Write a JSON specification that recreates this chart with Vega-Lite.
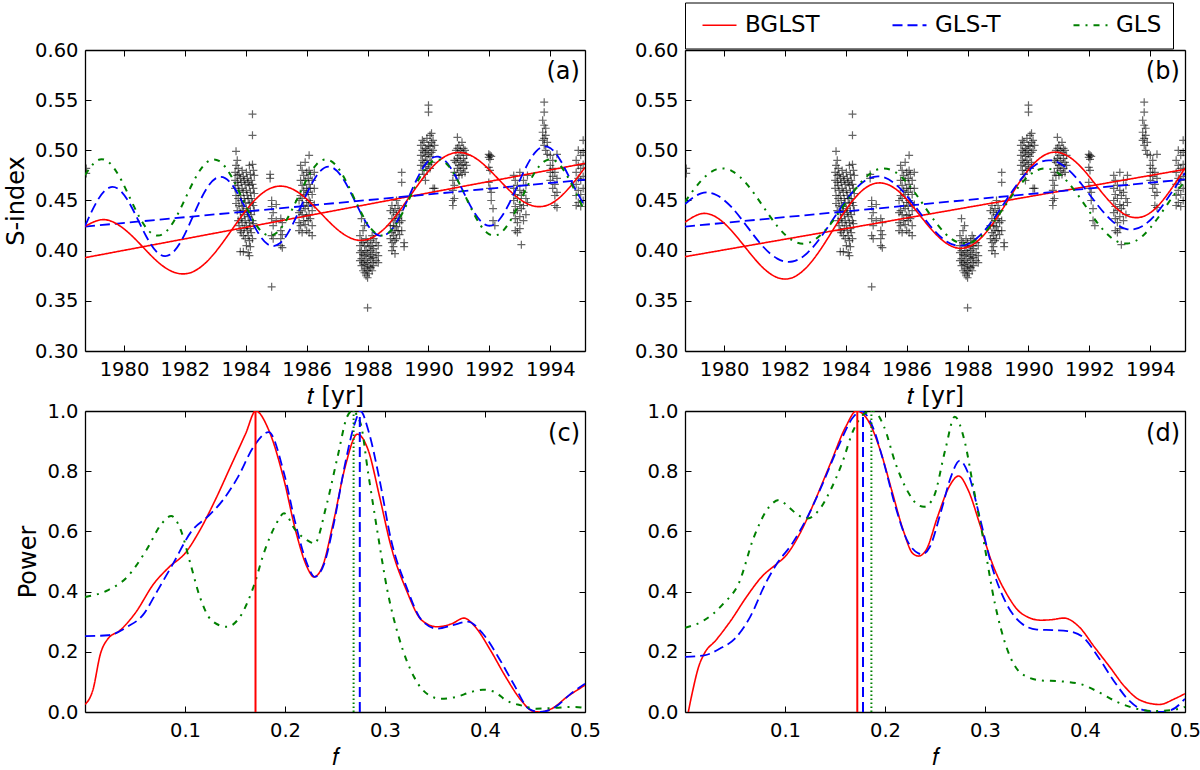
{
  "$schema": "https://vega.github.io/schema/vega-lite/v6.json",
  "padding": {"left": 4, "top": 2, "right": 5, "bottom": 0},
  "background": "white",
  "datasets": {
    "obs": [
      {"t":1978.76,"s":0.482},{"t":1978.76,"s":0.477},
      {"t":1983.65,"s":0.478},{"t":1983.65,"s":0.470},{"t":1983.65,"s":0.462},
      {"t":1983.68,"s":0.499},{"t":1983.68,"s":0.485},{"t":1983.68,"s":0.455},{"t":1983.68,"s":0.447},
      {"t":1983.72,"s":0.490},{"t":1983.72,"s":0.475},{"t":1983.72,"s":0.468},{"t":1983.72,"s":0.440},
      {"t":1983.75,"s":0.482},{"t":1983.75,"s":0.465},{"t":1983.75,"s":0.452},{"t":1983.75,"s":0.430},
      {"t":1983.78,"s":0.476},{"t":1983.78,"s":0.460},{"t":1983.78,"s":0.445},{"t":1983.78,"s":0.425},
      {"t":1983.82,"s":0.472},{"t":1983.82,"s":0.455},{"t":1983.82,"s":0.438},{"t":1983.82,"s":0.420},{"t":1983.82,"s":0.399},
      {"t":1983.85,"s":0.468},{"t":1983.85,"s":0.450},{"t":1983.85,"s":0.432},{"t":1983.85,"s":0.418},
      {"t":1983.88,"s":0.480},{"t":1983.88,"s":0.462},{"t":1983.88,"s":0.444},{"t":1983.88,"s":0.428},
      {"t":1983.92,"s":0.474},{"t":1983.92,"s":0.458},{"t":1983.92,"s":0.440},{"t":1983.92,"s":0.415},{"t":1983.92,"s":0.399},
      {"t":1983.95,"s":0.470},{"t":1983.95,"s":0.452},{"t":1983.95,"s":0.436},{"t":1983.95,"s":0.422},
      {"t":1983.98,"s":0.466},{"t":1983.98,"s":0.448},{"t":1983.98,"s":0.430},{"t":1983.98,"s":0.412},
      {"t":1984.02,"s":0.478},{"t":1984.02,"s":0.460},{"t":1984.02,"s":0.442},{"t":1984.02,"s":0.425},{"t":1984.02,"s":0.405},
      {"t":1984.05,"s":0.472},{"t":1984.05,"s":0.455},{"t":1984.05,"s":0.438},{"t":1984.05,"s":0.420},
      {"t":1984.08,"s":0.468},{"t":1984.08,"s":0.452},{"t":1984.08,"s":0.434},{"t":1984.08,"s":0.415},{"t":1984.08,"s":0.398},
      {"t":1984.12,"s":0.485},{"t":1984.12,"s":0.465},{"t":1984.12,"s":0.447},{"t":1984.12,"s":0.428},{"t":1984.12,"s":0.410},{"t":1984.12,"s":0.395},
      {"t":1984.15,"s":0.476},{"t":1984.15,"s":0.458},{"t":1984.15,"s":0.440},{"t":1984.15,"s":0.422},{"t":1984.15,"s":0.404},
      {"t":1984.18,"s":0.470},{"t":1984.18,"s":0.452},{"t":1984.18,"s":0.436},{"t":1984.18,"s":0.418},
      {"t":1984.22,"s":0.536},{"t":1984.22,"s":0.515},{"t":1984.22,"s":0.486},{"t":1984.22,"s":0.466},{"t":1984.22,"s":0.448},{"t":1984.22,"s":0.430},{"t":1984.22,"s":0.412},
      {"t":1984.25,"s":0.480},{"t":1984.25,"s":0.462},{"t":1984.25,"s":0.445},{"t":1984.25,"s":0.427},
      {"t":1984.28,"s":0.475},{"t":1984.28,"s":0.457},{"t":1984.28,"s":0.440},
      {"t":1984.80,"s":0.476},{"t":1984.80,"s":0.472},
      {"t":1984.85,"s":0.450},{"t":1984.85,"s":0.444},{"t":1984.85,"s":0.432},{"t":1984.85,"s":0.415},{"t":1984.85,"s":0.364},
      {"t":1984.90,"s":0.438},{"t":1984.90,"s":0.425},{"t":1984.90,"s":0.412},
      {"t":1985.00,"s":0.446},{"t":1985.00,"s":0.430},
      {"t":1985.15,"s":0.432},{"t":1985.15,"s":0.420},{"t":1985.15,"s":0.412},{"t":1985.15,"s":0.405},
      {"t":1985.20,"s":0.428},{"t":1985.20,"s":0.416},{"t":1985.20,"s":0.403},
      {"t":1985.75,"s":0.450},{"t":1985.75,"s":0.438},{"t":1985.75,"s":0.428},{"t":1985.75,"s":0.420},
      {"t":1985.80,"s":0.485},{"t":1985.80,"s":0.470},{"t":1985.80,"s":0.455},{"t":1985.80,"s":0.440},{"t":1985.80,"s":0.425},
      {"t":1985.85,"s":0.480},{"t":1985.85,"s":0.465},{"t":1985.85,"s":0.452},{"t":1985.85,"s":0.436},{"t":1985.85,"s":0.418},
      {"t":1985.90,"s":0.475},{"t":1985.90,"s":0.460},{"t":1985.90,"s":0.445},{"t":1985.90,"s":0.430},
      {"t":1985.95,"s":0.488},{"t":1985.95,"s":0.470},{"t":1985.95,"s":0.456},{"t":1985.95,"s":0.442},{"t":1985.95,"s":0.426},
      {"t":1986.00,"s":0.478},{"t":1986.00,"s":0.462},{"t":1986.00,"s":0.448},{"t":1986.00,"s":0.435},{"t":1986.00,"s":0.420},
      {"t":1986.05,"s":0.472},{"t":1986.05,"s":0.458},{"t":1986.05,"s":0.444},{"t":1986.05,"s":0.430},
      {"t":1986.08,"s":0.495},{"t":1986.08,"s":0.480},{"t":1986.08,"s":0.466},{"t":1986.08,"s":0.450},{"t":1986.08,"s":0.436},{"t":1986.08,"s":0.418},
      {"t":1986.12,"s":0.476},{"t":1986.12,"s":0.462},{"t":1986.12,"s":0.448},{"t":1986.12,"s":0.432},
      {"t":1986.18,"s":0.470},{"t":1986.18,"s":0.456},{"t":1986.18,"s":0.440},{"t":1986.18,"s":0.425},{"t":1986.18,"s":0.415},
      {"t":1986.25,"s":0.478},{"t":1986.25,"s":0.462},{"t":1986.25,"s":0.446},
      {"t":1987.75,"s":0.415},{"t":1987.75,"s":0.405},{"t":1987.75,"s":0.398},{"t":1987.75,"s":0.390},
      {"t":1987.80,"s":0.432},{"t":1987.80,"s":0.410},{"t":1987.80,"s":0.400},{"t":1987.80,"s":0.392},{"t":1987.80,"s":0.385},
      {"t":1987.85,"s":0.420},{"t":1987.85,"s":0.408},{"t":1987.85,"s":0.396},{"t":1987.85,"s":0.388},{"t":1987.85,"s":0.380},
      {"t":1987.90,"s":0.425},{"t":1987.90,"s":0.405},{"t":1987.90,"s":0.395},{"t":1987.90,"s":0.386},{"t":1987.90,"s":0.378},
      {"t":1987.95,"s":0.412},{"t":1987.95,"s":0.400},{"t":1987.95,"s":0.390},{"t":1987.95,"s":0.382},{"t":1987.95,"s":0.375},
      {"t":1988.00,"s":0.408},{"t":1988.00,"s":0.398},{"t":1988.00,"s":0.388},{"t":1988.00,"s":0.380},{"t":1988.00,"s":0.373},{"t":1988.00,"s":0.343},
      {"t":1988.05,"s":0.404},{"t":1988.05,"s":0.394},{"t":1988.05,"s":0.384},{"t":1988.05,"s":0.377},
      {"t":1988.10,"s":0.410},{"t":1988.10,"s":0.400},{"t":1988.10,"s":0.392},{"t":1988.10,"s":0.383},
      {"t":1988.15,"s":0.415},{"t":1988.15,"s":0.405},{"t":1988.15,"s":0.396},{"t":1988.15,"s":0.388},{"t":1988.15,"s":0.380},
      {"t":1988.20,"s":0.412},{"t":1988.20,"s":0.402},{"t":1988.20,"s":0.393},{"t":1988.20,"s":0.385},
      {"t":1988.28,"s":0.408},{"t":1988.28,"s":0.398},{"t":1988.28,"s":0.390},
      {"t":1988.35,"s":0.405},{"t":1988.35,"s":0.395},{"t":1988.35,"s":0.388},
      {"t":1988.75,"s":0.440},{"t":1988.75,"s":0.425},{"t":1988.75,"s":0.412},
      {"t":1988.80,"s":0.445},{"t":1988.80,"s":0.432},{"t":1988.80,"s":0.418},{"t":1988.80,"s":0.408},{"t":1988.80,"s":0.400},
      {"t":1988.85,"s":0.438},{"t":1988.85,"s":0.425},{"t":1988.85,"s":0.415},{"t":1988.85,"s":0.404},
      {"t":1988.90,"s":0.442},{"t":1988.90,"s":0.430},{"t":1988.90,"s":0.420},{"t":1988.90,"s":0.410},{"t":1988.90,"s":0.397},
      {"t":1988.95,"s":0.450},{"t":1988.95,"s":0.436},{"t":1988.95,"s":0.424},{"t":1988.95,"s":0.412},
      {"t":1989.00,"s":0.445},{"t":1989.00,"s":0.432},{"t":1989.00,"s":0.420},
      {"t":1989.05,"s":0.440},{"t":1989.05,"s":0.428},{"t":1989.05,"s":0.416},
      {"t":1989.12,"s":0.478},{"t":1989.12,"s":0.468},{"t":1989.12,"s":0.430},{"t":1989.12,"s":0.420},
      {"t":1989.20,"s":0.408},{"t":1989.20,"s":0.404},
      {"t":1989.75,"s":0.505},{"t":1989.75,"s":0.495},{"t":1989.75,"s":0.485},
      {"t":1989.80,"s":0.510},{"t":1989.80,"s":0.500},{"t":1989.80,"s":0.490},{"t":1989.80,"s":0.480},
      {"t":1989.85,"s":0.508},{"t":1989.85,"s":0.498},{"t":1989.85,"s":0.488},{"t":1989.85,"s":0.476},
      {"t":1989.90,"s":0.502},{"t":1989.90,"s":0.494},{"t":1989.90,"s":0.484},{"t":1989.90,"s":0.470},
      {"t":1989.95,"s":0.512},{"t":1989.95,"s":0.500},{"t":1989.95,"s":0.490},{"t":1989.95,"s":0.480},
      {"t":1990.00,"s":0.545},{"t":1990.00,"s":0.538},{"t":1990.00,"s":0.505},{"t":1990.00,"s":0.496},{"t":1990.00,"s":0.486},
      {"t":1990.05,"s":0.515},{"t":1990.05,"s":0.504},{"t":1990.05,"s":0.494},{"t":1990.05,"s":0.482},
      {"t":1990.10,"s":0.517},{"t":1990.10,"s":0.508},{"t":1990.10,"s":0.498},{"t":1990.10,"s":0.488},
      {"t":1990.15,"s":0.510},{"t":1990.15,"s":0.500},{"t":1990.15,"s":0.462},
      {"t":1990.20,"s":0.505},{"t":1990.20,"s":0.462},
      {"t":1990.80,"s":0.470},{"t":1990.80,"s":0.460},{"t":1990.80,"s":0.450},{"t":1990.80,"s":0.445},
      {"t":1990.85,"s":0.490},{"t":1990.85,"s":0.478},{"t":1990.85,"s":0.465},{"t":1990.85,"s":0.452},
      {"t":1990.90,"s":0.500},{"t":1990.90,"s":0.488},{"t":1990.90,"s":0.475},
      {"t":1990.95,"s":0.513},{"t":1990.95,"s":0.502},{"t":1990.95,"s":0.492},{"t":1990.95,"s":0.482},
      {"t":1991.00,"s":0.505},{"t":1991.00,"s":0.495},{"t":1991.00,"s":0.485},{"t":1991.00,"s":0.475},
      {"t":1991.05,"s":0.500},{"t":1991.05,"s":0.490},{"t":1991.05,"s":0.480},
      {"t":1991.10,"s":0.508},{"t":1991.10,"s":0.498},{"t":1991.10,"s":0.486},{"t":1991.10,"s":0.476},
      {"t":1991.15,"s":0.502},{"t":1991.15,"s":0.492},{"t":1991.15,"s":0.482},
      {"t":1991.20,"s":0.500},{"t":1991.20,"s":0.488},{"t":1991.20,"s":0.478},
      {"t":1991.25,"s":0.495},{"t":1991.25,"s":0.485},
      {"t":1991.98,"s":0.496},{"t":1991.98,"s":0.493},{"t":1991.98,"s":0.483},{"t":1991.98,"s":0.468},
      {"t":1992.02,"s":0.495},{"t":1992.02,"s":0.491},{"t":1992.02,"s":0.480},{"t":1992.02,"s":0.462},
      {"t":1992.06,"s":0.494},{"t":1992.06,"s":0.458},{"t":1992.06,"s":0.450},
      {"t":1992.12,"s":0.442},{"t":1992.12,"s":0.430},
      {"t":1992.18,"s":0.425},
      {"t":1992.80,"s":0.475},{"t":1992.80,"s":0.462},{"t":1992.80,"s":0.450},{"t":1992.80,"s":0.438},
      {"t":1992.85,"s":0.470},{"t":1992.85,"s":0.456},{"t":1992.85,"s":0.444},{"t":1992.85,"s":0.432},{"t":1992.85,"s":0.420},
      {"t":1992.92,"s":0.465},{"t":1992.92,"s":0.452},{"t":1992.92,"s":0.440},{"t":1992.92,"s":0.428},{"t":1992.92,"s":0.418},
      {"t":1993.00,"s":0.478},{"t":1993.00,"s":0.460},{"t":1993.00,"s":0.446},{"t":1993.00,"s":0.434},{"t":1993.00,"s":0.422},
      {"t":1993.05,"s":0.455},{"t":1993.05,"s":0.442},{"t":1993.05,"s":0.406},
      {"t":1993.12,"s":0.470},{"t":1993.12,"s":0.458},{"t":1993.12,"s":0.445},{"t":1993.12,"s":0.430},
      {"t":1993.20,"s":0.465},{"t":1993.20,"s":0.452},{"t":1993.20,"s":0.436},
      {"t":1993.25,"s":0.475},{"t":1993.25,"s":0.448},
      {"t":1993.75,"s":0.530},{"t":1993.75,"s":0.518},{"t":1993.75,"s":0.510},
      {"t":1993.80,"s":0.548},{"t":1993.80,"s":0.538},{"t":1993.80,"s":0.525},{"t":1993.80,"s":0.512},{"t":1993.80,"s":0.505},
      {"t":1993.85,"s":0.522},{"t":1993.85,"s":0.515},{"t":1993.85,"s":0.500},
      {"t":1993.90,"s":0.508},{"t":1993.90,"s":0.496},
      {"t":1994.00,"s":0.495},{"t":1994.00,"s":0.485},{"t":1994.00,"s":0.478},{"t":1994.00,"s":0.470},
      {"t":1994.08,"s":0.490},{"t":1994.08,"s":0.482},{"t":1994.08,"s":0.474},{"t":1994.08,"s":0.462},
      {"t":1994.15,"s":0.478},{"t":1994.15,"s":0.466},{"t":1994.15,"s":0.455},{"t":1994.15,"s":0.445},
      {"t":1994.22,"s":0.496},{"t":1994.22,"s":0.472},{"t":1994.22,"s":0.458},{"t":1994.22,"s":0.443},
      {"t":1994.85,"s":0.490},{"t":1994.85,"s":0.478},{"t":1994.85,"s":0.466},{"t":1994.85,"s":0.455},{"t":1994.85,"s":0.445},
      {"t":1994.92,"s":0.500},{"t":1994.92,"s":0.485},{"t":1994.92,"s":0.472},{"t":1994.92,"s":0.460},{"t":1994.92,"s":0.448},
      {"t":1995.00,"s":0.495},{"t":1995.00,"s":0.482},{"t":1995.00,"s":0.470},{"t":1995.00,"s":0.456},{"t":1995.00,"s":0.444},
      {"t":1995.08,"s":0.510},{"t":1995.08,"s":0.498},{"t":1995.08,"s":0.486},{"t":1995.08,"s":0.474},{"t":1995.08,"s":0.462},{"t":1995.08,"s":0.450}
    ],
    "fitA": [
      {"method":"BGLST","part":"trend","t":1978.72,"s":0.393},{"method":"BGLST","part":"trend","t":1995.14,"s":0.487},
      {"method":"GLS-T","part":"trend","t":1978.72,"s":0.424},{"method":"GLS-T","part":"trend","t":1995.14,"s":0.4707},
      {"method":"BGLST","part":"fit","t":1978.72,"s":0.4243},{"method":"BGLST","part":"fit","t":1979.25,"s":0.4308},{"method":"BGLST","part":"fit","t":1979.75,"s":0.4269},{"method":"BGLST","part":"fit","t":1980.25,"s":0.4151},{"method":"BGLST","part":"fit","t":1980.75,"s":0.3995},{"method":"BGLST","part":"fit","t":1981.25,"s":0.3853},{"method":"BGLST","part":"fit","t":1981.75,"s":0.3775},{"method":"BGLST","part":"fit","t":1982.25,"s":0.3788},{"method":"BGLST","part":"fit","t":1982.75,"s":0.3899},{"method":"BGLST","part":"fit","t":1983.25,"s":0.4084},{"method":"BGLST","part":"fit","t":1983.75,"s":0.4297},{"method":"BGLST","part":"fit","t":1984.25,"s":0.4489},{"method":"BGLST","part":"fit","t":1984.75,"s":0.4613},{"method":"BGLST","part":"fit","t":1985.25,"s":0.4641},{"method":"BGLST","part":"fit","t":1985.75,"s":0.4575},{"method":"BGLST","part":"fit","t":1986.25,"s":0.4441},{"method":"BGLST","part":"fit","t":1986.75,"s":0.4284},{"method":"BGLST","part":"fit","t":1987.25,"s":0.4157},{"method":"BGLST","part":"fit","t":1987.75,"s":0.4103},{"method":"BGLST","part":"fit","t":1988.25,"s":0.4147},{"method":"BGLST","part":"fit","t":1988.75,"s":0.4283},{"method":"BGLST","part":"fit","t":1989.25,"s":0.4482},{"method":"BGLST","part":"fit","t":1989.75,"s":0.4695},{"method":"BGLST","part":"fit","t":1990.25,"s":0.4871},{"method":"BGLST","part":"fit","t":1990.75,"s":0.4967},{"method":"BGLST","part":"fit","t":1991.25,"s":0.4966},{"method":"BGLST","part":"fit","t":1991.75,"s":0.4876},{"method":"BGLST","part":"fit","t":1992.25,"s":0.4728},{"method":"BGLST","part":"fit","t":1992.75,"s":0.4575},{"method":"BGLST","part":"fit","t":1993.25,"s":0.4467},{"method":"BGLST","part":"fit","t":1993.75,"s":0.4441},{"method":"BGLST","part":"fit","t":1994.25,"s":0.4515},{"method":"BGLST","part":"fit","t":1994.75,"s":0.4674},{"method":"BGLST","part":"fit","t":1995.14,"s":0.4830},
      {"method":"GLS-T","part":"fit","t":1978.72,"s":0.4245},{"method":"GLS-T","part":"fit","t":1979.12,"s":0.4495},{"method":"GLS-T","part":"fit","t":1979.52,"s":0.4629},{"method":"GLS-T","part":"fit","t":1979.92,"s":0.4586},{"method":"GLS-T","part":"fit","t":1980.32,"s":0.4393},{"method":"GLS-T","part":"fit","t":1980.72,"s":0.4149},{"method":"GLS-T","part":"fit","t":1981.12,"s":0.3975},{"method":"GLS-T","part":"fit","t":1981.52,"s":0.3961},{"method":"GLS-T","part":"fit","t":1981.92,"s":0.4119},{"method":"GLS-T","part":"fit","t":1982.32,"s":0.4380},{"method":"GLS-T","part":"fit","t":1982.72,"s":0.4622},{"method":"GLS-T","part":"fit","t":1983.12,"s":0.4734},{"method":"GLS-T","part":"fit","t":1983.52,"s":0.4669},{"method":"GLS-T","part":"fit","t":1983.92,"s":0.4464},{"method":"GLS-T","part":"fit","t":1984.32,"s":0.4222},{"method":"GLS-T","part":"fit","t":1984.72,"s":0.4064},{"method":"GLS-T","part":"fit","t":1985.12,"s":0.4074},{"method":"GLS-T","part":"fit","t":1985.52,"s":0.4249},{"method":"GLS-T","part":"fit","t":1985.92,"s":0.4514},{"method":"GLS-T","part":"fit","t":1986.32,"s":0.4745},{"method":"GLS-T","part":"fit","t":1986.72,"s":0.4837},{"method":"GLS-T","part":"fit","t":1987.12,"s":0.4751},{"method":"GLS-T","part":"fit","t":1987.52,"s":0.4534},{"method":"GLS-T","part":"fit","t":1987.92,"s":0.4295},{"method":"GLS-T","part":"fit","t":1988.32,"s":0.4157},{"method":"GLS-T","part":"fit","t":1988.72,"s":0.4187},{"method":"GLS-T","part":"fit","t":1989.12,"s":0.4380},{"method":"GLS-T","part":"fit","t":1989.52,"s":0.4649},{"method":"GLS-T","part":"fit","t":1989.92,"s":0.4867},{"method":"GLS-T","part":"fit","t":1990.32,"s":0.4937},{"method":"GLS-T","part":"fit","t":1990.72,"s":0.4830},{"method":"GLS-T","part":"fit","t":1991.12,"s":0.4603},{"method":"GLS-T","part":"fit","t":1991.52,"s":0.4372},{"method":"GLS-T","part":"fit","t":1991.92,"s":0.4252},{"method":"GLS-T","part":"fit","t":1992.32,"s":0.4306},{"method":"GLS-T","part":"fit","t":1992.72,"s":0.4514},{"method":"GLS-T","part":"fit","t":1993.12,"s":0.4781},{"method":"GLS-T","part":"fit","t":1993.52,"s":0.4985},{"method":"GLS-T","part":"fit","t":1993.92,"s":0.5034},{"method":"GLS-T","part":"fit","t":1994.32,"s":0.4907},{"method":"GLS-T","part":"fit","t":1994.72,"s":0.4673},{"method":"GLS-T","part":"fit","t":1995.12,"s":0.4450},
      {"method":"GLS","part":"fit","t":1978.72,"s":0.4755},{"method":"GLS","part":"fit","t":1979.12,"s":0.4898},{"method":"GLS","part":"fit","t":1979.52,"s":0.4876},{"method":"GLS","part":"fit","t":1979.92,"s":0.4699},{"method":"GLS","part":"fit","t":1980.32,"s":0.4446},{"method":"GLS","part":"fit","t":1980.72,"s":0.4231},{"method":"GLS","part":"fit","t":1981.12,"s":0.4150},{"method":"GLS","part":"fit","t":1981.52,"s":0.4239},{"method":"GLS","part":"fit","t":1981.92,"s":0.4459},{"method":"GLS","part":"fit","t":1982.32,"s":0.4711},{"method":"GLS","part":"fit","t":1982.72,"s":0.4881},{"method":"GLS","part":"fit","t":1983.12,"s":0.4894},{"method":"GLS","part":"fit","t":1983.52,"s":0.4744},{"method":"GLS","part":"fit","t":1983.92,"s":0.4498},{"method":"GLS","part":"fit","t":1984.32,"s":0.4266},{"method":"GLS","part":"fit","t":1984.72,"s":0.4153},{"method":"GLS","part":"fit","t":1985.12,"s":0.4210},{"method":"GLS","part":"fit","t":1985.52,"s":0.4409},{"method":"GLS","part":"fit","t":1985.92,"s":0.4663},{"method":"GLS","part":"fit","t":1986.32,"s":0.4858},{"method":"GLS","part":"fit","t":1986.72,"s":0.4905},{"method":"GLS","part":"fit","t":1987.12,"s":0.4785},{"method":"GLS","part":"fit","t":1987.52,"s":0.4549},{"method":"GLS","part":"fit","t":1987.92,"s":0.4306},{"method":"GLS","part":"fit","t":1988.32,"s":0.4162},{"method":"GLS","part":"fit","t":1988.72,"s":0.4185},{"method":"GLS","part":"fit","t":1989.12,"s":0.4361},{"method":"GLS","part":"fit","t":1989.52,"s":0.4614},{"method":"GLS","part":"fit","t":1989.92,"s":0.4829},{"method":"GLS","part":"fit","t":1990.32,"s":0.4910},{"method":"GLS","part":"fit","t":1990.72,"s":0.4821},{"method":"GLS","part":"fit","t":1991.12,"s":0.4601},{"method":"GLS","part":"fit","t":1991.52,"s":0.4350},{"method":"GLS","part":"fit","t":1991.92,"s":0.4179},{"method":"GLS","part":"fit","t":1992.32,"s":0.4166},{"method":"GLS","part":"fit","t":1992.72,"s":0.4315},{"method":"GLS","part":"fit","t":1993.12,"s":0.4562},{"method":"GLS","part":"fit","t":1993.52,"s":0.4794},{"method":"GLS","part":"fit","t":1993.92,"s":0.4907},{"method":"GLS","part":"fit","t":1994.32,"s":0.4851},{"method":"GLS","part":"fit","t":1994.72,"s":0.4651},{"method":"GLS","part":"fit","t":1995.12,"s":0.4397}
    ],
    "fitB": [
      {"method":"BGLST","part":"trend","t":1978.72,"s":0.394},{"method":"BGLST","part":"trend","t":1995.14,"s":0.481},
      {"method":"GLS-T","part":"trend","t":1978.72,"s":0.424},{"method":"GLS-T","part":"trend","t":1995.14,"s":0.471},
      {"method":"BGLST","part":"fit","t":1978.72,"s":0.4284},{"method":"BGLST","part":"fit","t":1979.25,"s":0.4368},{"method":"BGLST","part":"fit","t":1979.75,"s":0.4333},{"method":"BGLST","part":"fit","t":1980.25,"s":0.4199},{"method":"BGLST","part":"fit","t":1980.75,"s":0.4014},{"method":"BGLST","part":"fit","t":1981.25,"s":0.3839},{"method":"BGLST","part":"fit","t":1981.75,"s":0.3732},{"method":"BGLST","part":"fit","t":1982.25,"s":0.3731},{"method":"BGLST","part":"fit","t":1982.75,"s":0.3846},{"method":"BGLST","part":"fit","t":1983.25,"s":0.4048},{"method":"BGLST","part":"fit","t":1983.75,"s":0.4290},{"method":"BGLST","part":"fit","t":1984.25,"s":0.4507},{"method":"BGLST","part":"fit","t":1984.75,"s":0.4645},{"method":"BGLST","part":"fit","t":1985.25,"s":0.4671},{"method":"BGLST","part":"fit","t":1985.75,"s":0.4587},{"method":"BGLST","part":"fit","t":1986.25,"s":0.4422},{"method":"BGLST","part":"fit","t":1986.75,"s":0.4234},{"method":"BGLST","part":"fit","t":1987.25,"s":0.4085},{"method":"BGLST","part":"fit","t":1987.75,"s":0.4023},{"method":"BGLST","part":"fit","t":1988.25,"s":0.4076},{"method":"BGLST","part":"fit","t":1988.75,"s":0.4237},{"method":"BGLST","part":"fit","t":1989.25,"s":0.4464},{"method":"BGLST","part":"fit","t":1989.75,"s":0.4703},{"method":"BGLST","part":"fit","t":1990.25,"s":0.4889},{"method":"BGLST","part":"fit","t":1990.75,"s":0.4978},{"method":"BGLST","part":"fit","t":1991.25,"s":0.4950},{"method":"BGLST","part":"fit","t":1991.75,"s":0.4825},{"method":"BGLST","part":"fit","t":1992.25,"s":0.4641},{"method":"BGLST","part":"fit","t":1992.75,"s":0.4463},{"method":"BGLST","part":"fit","t":1993.25,"s":0.4348},{"method":"BGLST","part":"fit","t":1993.75,"s":0.4339},{"method":"BGLST","part":"fit","t":1994.25,"s":0.4445},{"method":"BGLST","part":"fit","t":1994.75,"s":0.4642},{"method":"BGLST","part":"fit","t":1995.14,"s":0.4824},
      {"method":"GLS-T","part":"fit","t":1978.72,"s":0.4465},{"method":"GLS-T","part":"fit","t":1979.25,"s":0.4572},{"method":"GLS-T","part":"fit","t":1979.75,"s":0.4555},{"method":"GLS-T","part":"fit","t":1980.25,"s":0.4433},{"method":"GLS-T","part":"fit","t":1980.75,"s":0.4244},{"method":"GLS-T","part":"fit","t":1981.25,"s":0.4052},{"method":"GLS-T","part":"fit","t":1981.75,"s":0.3921},{"method":"GLS-T","part":"fit","t":1982.25,"s":0.3892},{"method":"GLS-T","part":"fit","t":1982.75,"s":0.3980},{"method":"GLS-T","part":"fit","t":1983.25,"s":0.4164},{"method":"GLS-T","part":"fit","t":1983.75,"s":0.4389},{"method":"GLS-T","part":"fit","t":1984.25,"s":0.4593},{"method":"GLS-T","part":"fit","t":1984.75,"s":0.4718},{"method":"GLS-T","part":"fit","t":1985.25,"s":0.4731},{"method":"GLS-T","part":"fit","t":1985.75,"s":0.4630},{"method":"GLS-T","part":"fit","t":1986.25,"s":0.4452},{"method":"GLS-T","part":"fit","t":1986.75,"s":0.4256},{"method":"GLS-T","part":"fit","t":1987.25,"s":0.4104},{"method":"GLS-T","part":"fit","t":1987.75,"s":0.4049},{"method":"GLS-T","part":"fit","t":1988.25,"s":0.4111},{"method":"GLS-T","part":"fit","t":1988.75,"s":0.4273},{"method":"GLS-T","part":"fit","t":1989.25,"s":0.4495},{"method":"GLS-T","part":"fit","t":1989.75,"s":0.4711},{"method":"GLS-T","part":"fit","t":1990.25,"s":0.4859},{"method":"GLS-T","part":"fit","t":1990.75,"s":0.4899},{"method":"GLS-T","part":"fit","t":1991.25,"s":0.4823},{"method":"GLS-T","part":"fit","t":1991.75,"s":0.4660},{"method":"GLS-T","part":"fit","t":1992.25,"s":0.4462},{"method":"GLS-T","part":"fit","t":1992.75,"s":0.4295},{"method":"GLS-T","part":"fit","t":1993.25,"s":0.4213},{"method":"GLS-T","part":"fit","t":1993.75,"s":0.4246},{"method":"GLS-T","part":"fit","t":1994.25,"s":0.4389},{"method":"GLS-T","part":"fit","t":1994.75,"s":0.4602},{"method":"GLS-T","part":"fit","t":1995.14,"s":0.4773},
      {"method":"GLS","part":"fit","t":1978.72,"s":0.4487},{"method":"GLS","part":"fit","t":1979.25,"s":0.4698},{"method":"GLS","part":"fit","t":1979.75,"s":0.4810},{"method":"GLS","part":"fit","t":1980.25,"s":0.4796},{"method":"GLS","part":"fit","t":1980.75,"s":0.4664},{"method":"GLS","part":"fit","t":1981.25,"s":0.4456},{"method":"GLS","part":"fit","t":1981.75,"s":0.4245},{"method":"GLS","part":"fit","t":1982.25,"s":0.4102},{"method":"GLS","part":"fit","t":1982.75,"s":0.4076},{"method":"GLS","part":"fit","t":1983.25,"s":0.4179},{"method":"GLS","part":"fit","t":1983.75,"s":0.4368},{"method":"GLS","part":"fit","t":1984.25,"s":0.4586},{"method":"GLS","part":"fit","t":1984.75,"s":0.4756},{"method":"GLS","part":"fit","t":1985.25,"s":0.4820},{"method":"GLS","part":"fit","t":1985.75,"s":0.4756},{"method":"GLS","part":"fit","t":1986.25,"s":0.4586},{"method":"GLS","part":"fit","t":1986.75,"s":0.4368},{"method":"GLS","part":"fit","t":1987.25,"s":0.4176},{"method":"GLS","part":"fit","t":1987.75,"s":0.4076},{"method":"GLS","part":"fit","t":1988.25,"s":0.4102},{"method":"GLS","part":"fit","t":1988.75,"s":0.4245},{"method":"GLS","part":"fit","t":1989.25,"s":0.4456},{"method":"GLS","part":"fit","t":1989.75,"s":0.4664},{"method":"GLS","part":"fit","t":1990.25,"s":0.4796},{"method":"GLS","part":"fit","t":1990.75,"s":0.4810},{"method":"GLS","part":"fit","t":1991.25,"s":0.4698},{"method":"GLS","part":"fit","t":1991.75,"s":0.4500},{"method":"GLS","part":"fit","t":1992.25,"s":0.4283},{"method":"GLS","part":"fit","t":1992.75,"s":0.4122},{"method":"GLS","part":"fit","t":1993.25,"s":0.4071},{"method":"GLS","part":"fit","t":1993.75,"s":0.4147},{"method":"GLS","part":"fit","t":1994.25,"s":0.4326},{"method":"GLS","part":"fit","t":1994.75,"s":0.4544},{"method":"GLS","part":"fit","t":1995.14,"s":0.4691}
    ],
    "pgC": [
      {"method":"BGLST","f":0.0002,"p":0.025},{"method":"BGLST","f":0.0078,"p":0.072},{"method":"BGLST","f":0.0155,"p":0.194},{"method":"BGLST","f":0.0231,"p":0.244},{"method":"BGLST","f":0.0346,"p":0.27},{"method":"BGLST","f":0.0499,"p":0.327},{"method":"BGLST","f":0.069,"p":0.427},{"method":"BGLST","f":0.0843,"p":0.482},{"method":"BGLST","f":0.1,"p":0.527},{"method":"BGLST","f":0.1149,"p":0.604},{"method":"BGLST","f":0.1302,"p":0.704},{"method":"BGLST","f":0.1455,"p":0.815},{"method":"BGLST","f":0.1608,"p":0.926},{"method":"BGLST","f":0.1707,"p":1.0},{"method":"BGLST","f":0.1837,"p":0.937},{"method":"BGLST","f":0.199,"p":0.771},{"method":"BGLST","f":0.2105,"p":0.604},{"method":"BGLST","f":0.222,"p":0.482},{"method":"BGLST","f":0.2289,"p":0.449},{"method":"BGLST","f":0.2373,"p":0.482},{"method":"BGLST","f":0.2488,"p":0.637},{"method":"BGLST","f":0.2602,"p":0.815},{"method":"BGLST","f":0.2725,"p":0.923},{"method":"BGLST","f":0.2832,"p":0.87},{"method":"BGLST","f":0.2946,"p":0.715},{"method":"BGLST","f":0.3061,"p":0.549},{"method":"BGLST","f":0.3214,"p":0.405},{"method":"BGLST","f":0.3367,"p":0.305},{"method":"BGLST","f":0.352,"p":0.283},{"method":"BGLST","f":0.3673,"p":0.294},{"method":"BGLST","f":0.3788,"p":0.312},{"method":"BGLST","f":0.3902,"p":0.283},{"method":"BGLST","f":0.4055,"p":0.205},{"method":"BGLST","f":0.4208,"p":0.116},{"method":"BGLST","f":0.4361,"p":0.039},{"method":"BGLST","f":0.4476,"p":0.003},{"method":"BGLST","f":0.4553,"p":0.0},{"method":"BGLST","f":0.4667,"p":0.011},{"method":"BGLST","f":0.482,"p":0.05},{"method":"BGLST","f":0.5,"p":0.089},
      {"method":"GLS-T","f":0.0002,"p":0.252},{"method":"GLS-T","f":0.0231,"p":0.255},{"method":"GLS-T","f":0.0423,"p":0.283},{"method":"GLS-T","f":0.0576,"p":0.321},{"method":"GLS-T","f":0.0728,"p":0.405},{"method":"GLS-T","f":0.0881,"p":0.493},{"method":"GLS-T","f":0.1073,"p":0.604},{"method":"GLS-T","f":0.1226,"p":0.649},{"method":"GLS-T","f":0.1379,"p":0.704},{"method":"GLS-T","f":0.1532,"p":0.782},{"method":"GLS-T","f":0.1685,"p":0.881},{"method":"GLS-T","f":0.1837,"p":0.93},{"method":"GLS-T","f":0.199,"p":0.793},{"method":"GLS-T","f":0.2105,"p":0.626},{"method":"GLS-T","f":0.222,"p":0.493},{"method":"GLS-T","f":0.2296,"p":0.449},{"method":"GLS-T","f":0.2392,"p":0.493},{"method":"GLS-T","f":0.2488,"p":0.626},{"method":"GLS-T","f":0.2602,"p":0.826},{"method":"GLS-T","f":0.2698,"p":0.959},{"method":"GLS-T","f":0.2755,"p":1.0},{"method":"GLS-T","f":0.2832,"p":0.937},{"method":"GLS-T","f":0.2946,"p":0.771},{"method":"GLS-T","f":0.3061,"p":0.571},{"method":"GLS-T","f":0.3214,"p":0.416},{"method":"GLS-T","f":0.3367,"p":0.305},{"method":"GLS-T","f":0.352,"p":0.277},{"method":"GLS-T","f":0.3673,"p":0.288},{"method":"GLS-T","f":0.3826,"p":0.3},{"method":"GLS-T","f":0.3979,"p":0.26},{"method":"GLS-T","f":0.4132,"p":0.183},{"method":"GLS-T","f":0.4285,"p":0.094},{"method":"GLS-T","f":0.4438,"p":0.011},{"method":"GLS-T","f":0.4553,"p":0.0},{"method":"GLS-T","f":0.4706,"p":0.017},{"method":"GLS-T","f":0.4859,"p":0.061},{"method":"GLS-T","f":0.5,"p":0.094},
      {"method":"GLS","f":0.0002,"p":0.382},{"method":"GLS","f":0.0231,"p":0.405},{"method":"GLS","f":0.0423,"p":0.449},{"method":"GLS","f":0.0614,"p":0.538},{"method":"GLS","f":0.0767,"p":0.626},{"method":"GLS","f":0.0862,"p":0.651},{"method":"GLS","f":0.0958,"p":0.604},{"method":"GLS","f":0.1054,"p":0.493},{"method":"GLS","f":0.1149,"p":0.382},{"method":"GLS","f":0.1264,"p":0.305},{"method":"GLS","f":0.1417,"p":0.283},{"method":"GLS","f":0.157,"p":0.327},{"method":"GLS","f":0.1685,"p":0.416},{"method":"GLS","f":0.1799,"p":0.538},{"method":"GLS","f":0.1914,"p":0.626},{"method":"GLS","f":0.199,"p":0.66},{"method":"GLS","f":0.2105,"p":0.604},{"method":"GLS","f":0.222,"p":0.571},{"method":"GLS","f":0.2296,"p":0.56},{"method":"GLS","f":0.2411,"p":0.682},{"method":"GLS","f":0.2526,"p":0.848},{"method":"GLS","f":0.2621,"p":0.981},{"method":"GLS","f":0.2671,"p":1.0},{"method":"GLS","f":0.2755,"p":0.959},{"method":"GLS","f":0.2832,"p":0.793},{"method":"GLS","f":0.2927,"p":0.593},{"method":"GLS","f":0.3023,"p":0.405},{"method":"GLS","f":0.3138,"p":0.249},{"method":"GLS","f":0.3291,"p":0.116},{"method":"GLS","f":0.3444,"p":0.055},{"method":"GLS","f":0.3558,"p":0.044},{"method":"GLS","f":0.3711,"p":0.05},{"method":"GLS","f":0.3864,"p":0.067},{"method":"GLS","f":0.3979,"p":0.074},{"method":"GLS","f":0.4094,"p":0.067},{"method":"GLS","f":0.4208,"p":0.039},{"method":"GLS","f":0.4361,"p":0.022},{"method":"GLS","f":0.4514,"p":0.011},{"method":"GLS","f":0.4706,"p":0.014},{"method":"GLS","f":0.4897,"p":0.017},{"method":"GLS","f":0.5,"p":0.013}
    ],
    "pgD": [
      {"method":"BGLST","f":0.0033,"p":0.0},{"method":"BGLST","f":0.0078,"p":0.072},{"method":"BGLST","f":0.0136,"p":0.15},{"method":"BGLST","f":0.0193,"p":0.194},{"method":"BGLST","f":0.0308,"p":0.238},{"method":"BGLST","f":0.0461,"p":0.305},{"method":"BGLST","f":0.0614,"p":0.382},{"method":"BGLST","f":0.0767,"p":0.449},{"method":"BGLST","f":0.092,"p":0.493},{"method":"BGLST","f":0.1,"p":0.516},{"method":"BGLST","f":0.1149,"p":0.593},{"method":"BGLST","f":0.1302,"p":0.704},{"method":"BGLST","f":0.1455,"p":0.826},{"method":"BGLST","f":0.1608,"p":0.948},{"method":"BGLST","f":0.1715,"p":1.0},{"method":"BGLST","f":0.1837,"p":0.965},{"method":"BGLST","f":0.1952,"p":0.87},{"method":"BGLST","f":0.2067,"p":0.737},{"method":"BGLST","f":0.2182,"p":0.604},{"method":"BGLST","f":0.2277,"p":0.527},{"method":"BGLST","f":0.2335,"p":0.518},{"method":"BGLST","f":0.2411,"p":0.538},{"method":"BGLST","f":0.2526,"p":0.649},{"method":"BGLST","f":0.2641,"p":0.748},{"method":"BGLST","f":0.2736,"p":0.784},{"method":"BGLST","f":0.2832,"p":0.737},{"method":"BGLST","f":0.2946,"p":0.626},{"method":"BGLST","f":0.3061,"p":0.504},{"method":"BGLST","f":0.3214,"p":0.394},{"method":"BGLST","f":0.3367,"p":0.327},{"method":"BGLST","f":0.3558,"p":0.305},{"method":"BGLST","f":0.3673,"p":0.307},{"method":"BGLST","f":0.3788,"p":0.312},{"method":"BGLST","f":0.3941,"p":0.283},{"method":"BGLST","f":0.4094,"p":0.216},{"method":"BGLST","f":0.4247,"p":0.15},{"method":"BGLST","f":0.44,"p":0.083},{"method":"BGLST","f":0.4553,"p":0.039},{"method":"BGLST","f":0.4744,"p":0.025},{"method":"BGLST","f":0.4897,"p":0.044},{"method":"BGLST","f":0.5,"p":0.061},
      {"method":"GLS-T","f":0.0002,"p":0.183},{"method":"GLS-T","f":0.0193,"p":0.188},{"method":"GLS-T","f":0.0346,"p":0.21},{"method":"GLS-T","f":0.0499,"p":0.244},{"method":"GLS-T","f":0.0652,"p":0.316},{"method":"GLS-T","f":0.0805,"p":0.427},{"method":"GLS-T","f":0.092,"p":0.493},{"method":"GLS-T","f":0.1073,"p":0.56},{"method":"GLS-T","f":0.1226,"p":0.649},{"method":"GLS-T","f":0.1379,"p":0.76},{"method":"GLS-T","f":0.1532,"p":0.881},{"method":"GLS-T","f":0.1685,"p":0.981},{"method":"GLS-T","f":0.1761,"p":1.0},{"method":"GLS-T","f":0.1876,"p":0.948},{"method":"GLS-T","f":0.199,"p":0.826},{"method":"GLS-T","f":0.2105,"p":0.682},{"method":"GLS-T","f":0.222,"p":0.571},{"method":"GLS-T","f":0.2335,"p":0.527},{"method":"GLS-T","f":0.2373,"p":0.524},{"method":"GLS-T","f":0.2449,"p":0.549},{"method":"GLS-T","f":0.2564,"p":0.671},{"method":"GLS-T","f":0.266,"p":0.782},{"method":"GLS-T","f":0.2748,"p":0.835},{"method":"GLS-T","f":0.2832,"p":0.793},{"method":"GLS-T","f":0.2946,"p":0.649},{"method":"GLS-T","f":0.3061,"p":0.493},{"method":"GLS-T","f":0.3214,"p":0.36},{"method":"GLS-T","f":0.3367,"p":0.294},{"method":"GLS-T","f":0.352,"p":0.274},{"method":"GLS-T","f":0.3673,"p":0.272},{"method":"GLS-T","f":0.3826,"p":0.269},{"method":"GLS-T","f":0.3979,"p":0.249},{"method":"GLS-T","f":0.4132,"p":0.183},{"method":"GLS-T","f":0.4285,"p":0.105},{"method":"GLS-T","f":0.4438,"p":0.039},{"method":"GLS-T","f":0.459,"p":0.006},{"method":"GLS-T","f":0.4744,"p":0.0},{"method":"GLS-T","f":0.4859,"p":0.006},{"method":"GLS-T","f":0.5,"p":0.044},
      {"method":"GLS","f":0.0002,"p":0.28},{"method":"GLS","f":0.0193,"p":0.305},{"method":"GLS","f":0.0384,"p":0.36},{"method":"GLS","f":0.0537,"p":0.427},{"method":"GLS","f":0.069,"p":0.582},{"method":"GLS","f":0.0843,"p":0.682},{"method":"GLS","f":0.0939,"p":0.704},{"method":"GLS","f":0.1034,"p":0.682},{"method":"GLS","f":0.113,"p":0.654},{"method":"GLS","f":0.1226,"p":0.643},{"method":"GLS","f":0.134,"p":0.671},{"method":"GLS","f":0.1455,"p":0.737},{"method":"GLS","f":0.157,"p":0.826},{"method":"GLS","f":0.1685,"p":0.937},{"method":"GLS","f":0.1799,"p":0.992},{"method":"GLS","f":0.1883,"p":1.0},{"method":"GLS","f":0.199,"p":0.948},{"method":"GLS","f":0.2105,"p":0.826},{"method":"GLS","f":0.222,"p":0.737},{"method":"GLS","f":0.2335,"p":0.687},{"method":"GLS","f":0.2392,"p":0.682},{"method":"GLS","f":0.2488,"p":0.715},{"method":"GLS","f":0.2602,"p":0.87},{"method":"GLS","f":0.2698,"p":0.981},{"method":"GLS","f":0.2793,"p":0.904},{"method":"GLS","f":0.2889,"p":0.737},{"method":"GLS","f":0.2985,"p":0.571},{"method":"GLS","f":0.3099,"p":0.36},{"method":"GLS","f":0.3214,"p":0.216},{"method":"GLS","f":0.3367,"p":0.127},{"method":"GLS","f":0.3558,"p":0.105},{"method":"GLS","f":0.3749,"p":0.102},{"method":"GLS","f":0.3941,"p":0.094},{"method":"GLS","f":0.4132,"p":0.067},{"method":"GLS","f":0.4323,"p":0.033},{"method":"GLS","f":0.4514,"p":0.011},{"method":"GLS","f":0.4706,"p":0.003},{"method":"GLS","f":0.4897,"p":0.008},{"method":"GLS","f":0.5,"p":0.017}
    ],
    "pkC": [{"method":"BGLST","f":0.1705},{"method":"GLS-T","f":0.2748},{"method":"GLS","f":0.2686}],
    "pkD": [{"method":"BGLST","f":0.1723},{"method":"GLS-T","f":0.178},{"method":"GLS","f":0.1864}]
  },
  "concat": [
    {
      "width": 500, "height": 301,
      "layer": [
        {
          "data": {"name": "obs"},
          "mark": {"type": "point", "shape": "M-1,0H1M0,-1V1", "filled": false, "stroke": "#000", "strokeWidth": 1.2, "strokeOpacity": 0.85, "size": 64, "clip": true},
          "encoding": {
            "x": {"field": "t", "type": "quantitative", "scale": {"domain": [1978.72, 1995.14], "nice": false, "zero": false},
                  "axis": {"orient": "bottom", "values": [1980,1982,1984,1986,1988,1990,1992,1994], "format": "d", "title": "𝑡 [yr]"}},
            "y": {"field": "s", "type": "quantitative", "scale": {"domain": [0.3, 0.6], "nice": false, "zero": false},
                  "axis": {"orient": "left", "values": [0.3,0.35,0.4,0.45,0.5,0.55,0.6], "format": ".2f", "title": "S-index"}}
          }
        },
        {
          "data": {"name": "fitA"},
          "mark": {"type": "line", "interpolate": "natural", "clip": true},
          "encoding": {
            "x": {"field": "t", "type": "quantitative", "axis": {"orient": "top", "values": [1980,1982,1984,1986,1988,1990,1992,1994], "labels": false, "title": null}},
            "y": {"field": "s", "type": "quantitative", "axis": {"orient": "right", "values": [0.3,0.35,0.4,0.45,0.5,0.55,0.6], "labels": false, "title": null}},
            "detail": {"field": "part"},
            "color": {"field": "method", "type": "nominal", "scale": {"domain": ["BGLST","GLS-T","GLS"], "range": ["#ff0000","#0000ff","#008000"]},
                      "legend": {"orient": "none", "legendX": 600, "legendY": -47.5, "direction": "horizontal", "columns": 3, "title": null}},
            "strokeDash": {"field": "method", "type": "nominal", "scale": {"domain": ["BGLST","GLS-T","GLS"], "range": [[1,0],[10,5],[6,6,2,6]]},
                      "legend": {"orient": "none", "legendX": 600, "legendY": -47.5, "direction": "horizontal", "columns": 3, "title": null}},
            "strokeWidth": {"field": "method", "type": "nominal", "scale": {"domain": ["BGLST","GLS-T","GLS"], "range": [1.6,2,2]}, "legend": null}
          }
        },
        {
          "data": {"values": [{}]},
          "mark": {"type": "text", "align": "right", "baseline": "middle", "fontSize": 24, "font": "DejaVu Sans", "color": "#000"},
          "encoding": {
            "x": {"datum": 1994.97, "type": "quantitative", "axis": null},
            "y": {"datum": 0.5776, "type": "quantitative", "axis": null},
            "text": {"value": "(a)"}
          }
        }
      ],
      "resolve": {"axis": {"x": "independent", "y": "independent"}}
    },
    {
      "width": 500, "height": 301,
      "layer": [
        {
          "data": {"name": "obs"},
          "mark": {"type": "point", "shape": "M-1,0H1M0,-1V1", "filled": false, "stroke": "#000", "strokeWidth": 1.2, "strokeOpacity": 0.85, "size": 64, "clip": true},
          "encoding": {
            "x": {"field": "t", "type": "quantitative", "scale": {"domain": [1978.72, 1995.14], "nice": false, "zero": false},
                  "axis": {"orient": "bottom", "values": [1980,1982,1984,1986,1988,1990,1992,1994], "format": "d", "title": "𝑡 [yr]"}},
            "y": {"field": "s", "type": "quantitative", "scale": {"domain": [0.3, 0.6], "nice": false, "zero": false},
                  "axis": {"orient": "left", "values": [0.3,0.35,0.4,0.45,0.5,0.55,0.6], "format": ".2f", "title": null}}
          }
        },
        {
          "data": {"name": "fitB"},
          "mark": {"type": "line", "interpolate": "natural", "clip": true},
          "encoding": {
            "x": {"field": "t", "type": "quantitative", "axis": {"orient": "top", "values": [1980,1982,1984,1986,1988,1990,1992,1994], "labels": false, "title": null}},
            "y": {"field": "s", "type": "quantitative", "axis": {"orient": "right", "values": [0.3,0.35,0.4,0.45,0.5,0.55,0.6], "labels": false, "title": null}},
            "detail": {"field": "part"},
            "color": {"field": "method", "type": "nominal", "scale": {"domain": ["BGLST","GLS-T","GLS"], "range": ["#ff0000","#0000ff","#008000"]}, "legend": null},
            "strokeDash": {"field": "method", "type": "nominal", "scale": {"domain": ["BGLST","GLS-T","GLS"], "range": [[1,0],[10,5],[6,6,2,6]]}, "legend": null},
            "strokeWidth": {"field": "method", "type": "nominal", "scale": {"domain": ["BGLST","GLS-T","GLS"], "range": [1.6,2,2]}, "legend": null}
          }
        },
        {
          "data": {"values": [{}]},
          "mark": {"type": "text", "align": "right", "baseline": "middle", "fontSize": 24, "font": "DejaVu Sans", "color": "#000"},
          "encoding": {
            "x": {"datum": 1994.97, "type": "quantitative", "axis": null},
            "y": {"datum": 0.5776, "type": "quantitative", "axis": null},
            "text": {"value": "(b)"}
          }
        }
      ],
      "resolve": {"axis": {"x": "independent", "y": "independent"}}
    },
    {
      "width": 500, "height": 301,
      "layer": [
        {
          "data": {"name": "pgC"},
          "mark": {"type": "line", "interpolate": "monotone", "clip": true},
          "encoding": {
            "x": {"field": "f", "type": "quantitative", "scale": {"domain": [0, 0.5], "nice": false, "zero": false},
                  "axis": {"orient": "bottom", "values": [0.1,0.2,0.3,0.4,0.5], "format": ".1f", "title": "𝑓"}},
            "y": {"field": "p", "type": "quantitative", "scale": {"domain": [0, 1], "nice": false},
                  "axis": {"orient": "left", "values": [0,0.2,0.4,0.6,0.8,1], "format": ".1f", "title": "Power"}},
            "color": {"field": "method", "type": "nominal", "scale": {"domain": ["BGLST","GLS-T","GLS"], "range": ["#ff0000","#0000ff","#008000"]}, "legend": null},
            "strokeDash": {"field": "method", "type": "nominal", "scale": {"domain": ["BGLST","GLS-T","GLS"], "range": [[1,0],[10,5],[6,6,2,6]]}, "legend": null},
            "strokeWidth": {"field": "method", "type": "nominal", "scale": {"domain": ["BGLST","GLS-T","GLS"], "range": [1.6,2,2]}, "legend": null}
          }
        },
        {
          "data": {"name": "pkC"},
          "mark": {"type": "rule", "strokeWidth": 2},
          "encoding": {
            "x": {"field": "f", "type": "quantitative", "axis": {"orient": "top", "values": [0.1,0.2,0.3,0.4,0.5], "labels": false, "title": null}},
            "y": {"datum": 0, "type": "quantitative", "axis": {"orient": "right", "values": [0,0.2,0.4,0.6,0.8,1], "labels": false, "title": null}},
            "y2": {"datum": 1},
            "color": {"field": "method", "type": "nominal", "scale": {"domain": ["BGLST","GLS-T","GLS"], "range": ["#ff0000","#0000ff","#008000"]}, "legend": null},
            "strokeDash": {"condition": [{"test": "datum.method === 'GLS'", "value": [1.5, 2.5]}, {"test": "datum.method === 'BGLST'", "value": [1, 0]}], "value": [10, 5]}
          }
        },
        {
          "data": {"values": [{}]},
          "mark": {"type": "text", "align": "right", "baseline": "middle", "fontSize": 24, "font": "DejaVu Sans", "color": "#000"},
          "encoding": {
            "x": {"datum": 0.495, "type": "quantitative", "axis": null},
            "y": {"datum": 0.924, "type": "quantitative", "axis": null},
            "text": {"value": "(c)"}
          }
        }
      ],
      "resolve": {"axis": {"x": "independent", "y": "independent"}}
    },
    {
      "width": 500, "height": 301,
      "layer": [
        {
          "data": {"name": "pgD"},
          "mark": {"type": "line", "interpolate": "monotone", "clip": true},
          "encoding": {
            "x": {"field": "f", "type": "quantitative", "scale": {"domain": [0, 0.5], "nice": false, "zero": false},
                  "axis": {"orient": "bottom", "values": [0.1,0.2,0.3,0.4,0.5], "format": ".1f", "title": "𝑓"}},
            "y": {"field": "p", "type": "quantitative", "scale": {"domain": [0, 1], "nice": false},
                  "axis": {"orient": "left", "values": [0,0.2,0.4,0.6,0.8,1], "format": ".1f", "title": null}},
            "color": {"field": "method", "type": "nominal", "scale": {"domain": ["BGLST","GLS-T","GLS"], "range": ["#ff0000","#0000ff","#008000"]}, "legend": null},
            "strokeDash": {"field": "method", "type": "nominal", "scale": {"domain": ["BGLST","GLS-T","GLS"], "range": [[1,0],[10,5],[6,6,2,6]]}, "legend": null},
            "strokeWidth": {"field": "method", "type": "nominal", "scale": {"domain": ["BGLST","GLS-T","GLS"], "range": [1.6,2,2]}, "legend": null}
          }
        },
        {
          "data": {"name": "pkD"},
          "mark": {"type": "rule", "strokeWidth": 2},
          "encoding": {
            "x": {"field": "f", "type": "quantitative", "axis": {"orient": "top", "values": [0.1,0.2,0.3,0.4,0.5], "labels": false, "title": null}},
            "y": {"datum": 0, "type": "quantitative", "axis": {"orient": "right", "values": [0,0.2,0.4,0.6,0.8,1], "labels": false, "title": null}},
            "y2": {"datum": 1},
            "color": {"field": "method", "type": "nominal", "scale": {"domain": ["BGLST","GLS-T","GLS"], "range": ["#ff0000","#0000ff","#008000"]}, "legend": null},
            "strokeDash": {"condition": [{"test": "datum.method === 'GLS'", "value": [1.5, 2.5]}, {"test": "datum.method === 'BGLST'", "value": [1, 0]}], "value": [10, 5]}
          }
        },
        {
          "data": {"values": [{}]},
          "mark": {"type": "text", "align": "right", "baseline": "middle", "fontSize": 24, "font": "DejaVu Sans", "color": "#000"},
          "encoding": {
            "x": {"datum": 0.495, "type": "quantitative", "axis": null},
            "y": {"datum": 0.924, "type": "quantitative", "axis": null},
            "text": {"value": "(d)"}
          }
        }
      ],
      "resolve": {"axis": {"x": "independent", "y": "independent"}}
    }
  ],
  "columns": 2,
  "spacing": {"row": 60, "column": 100},
  "bounds": "flush",
  "resolve": {"scale": {"color": "shared", "strokeDash": "shared", "strokeWidth": "shared"}},
  "config": {
    "font": "DejaVu Sans",
    "view": {"stroke": null},
    "axis": {
      "grid": false, "domainColor": "#000", "domainWidth": 1.3, "tickColor": "#000", "tickWidth": 1, "tickSize": -6,
      "labelFont": "DejaVu Sans", "labelFontSize": 19.5, "labelColor": "#000", "labelFlush": false, "labelOverlap": false,
      "titleFont": "DejaVu Sans", "titleFontSize": 24, "titleFontWeight": "normal", "titleColor": "#000", "titlePadding": 6
    },
    "axisX": {"labelPadding": 15},
    "axisY": {"labelPadding": 13},
    "legend": {
      "symbolType": "M-3.4,0H3.4", "symbolSize": 100, "symbolStrokeWidth": 1.8, "symbolOffset": 12,
      "labelFont": "DejaVu Sans", "labelFontSize": 23, "labelColor": "#000", "labelOffset": 14, "labelLimit": 300,
      "strokeColor": "#000", "padding": 11, "columnPadding": 66, "rowPadding": 0
    }
  }
}
